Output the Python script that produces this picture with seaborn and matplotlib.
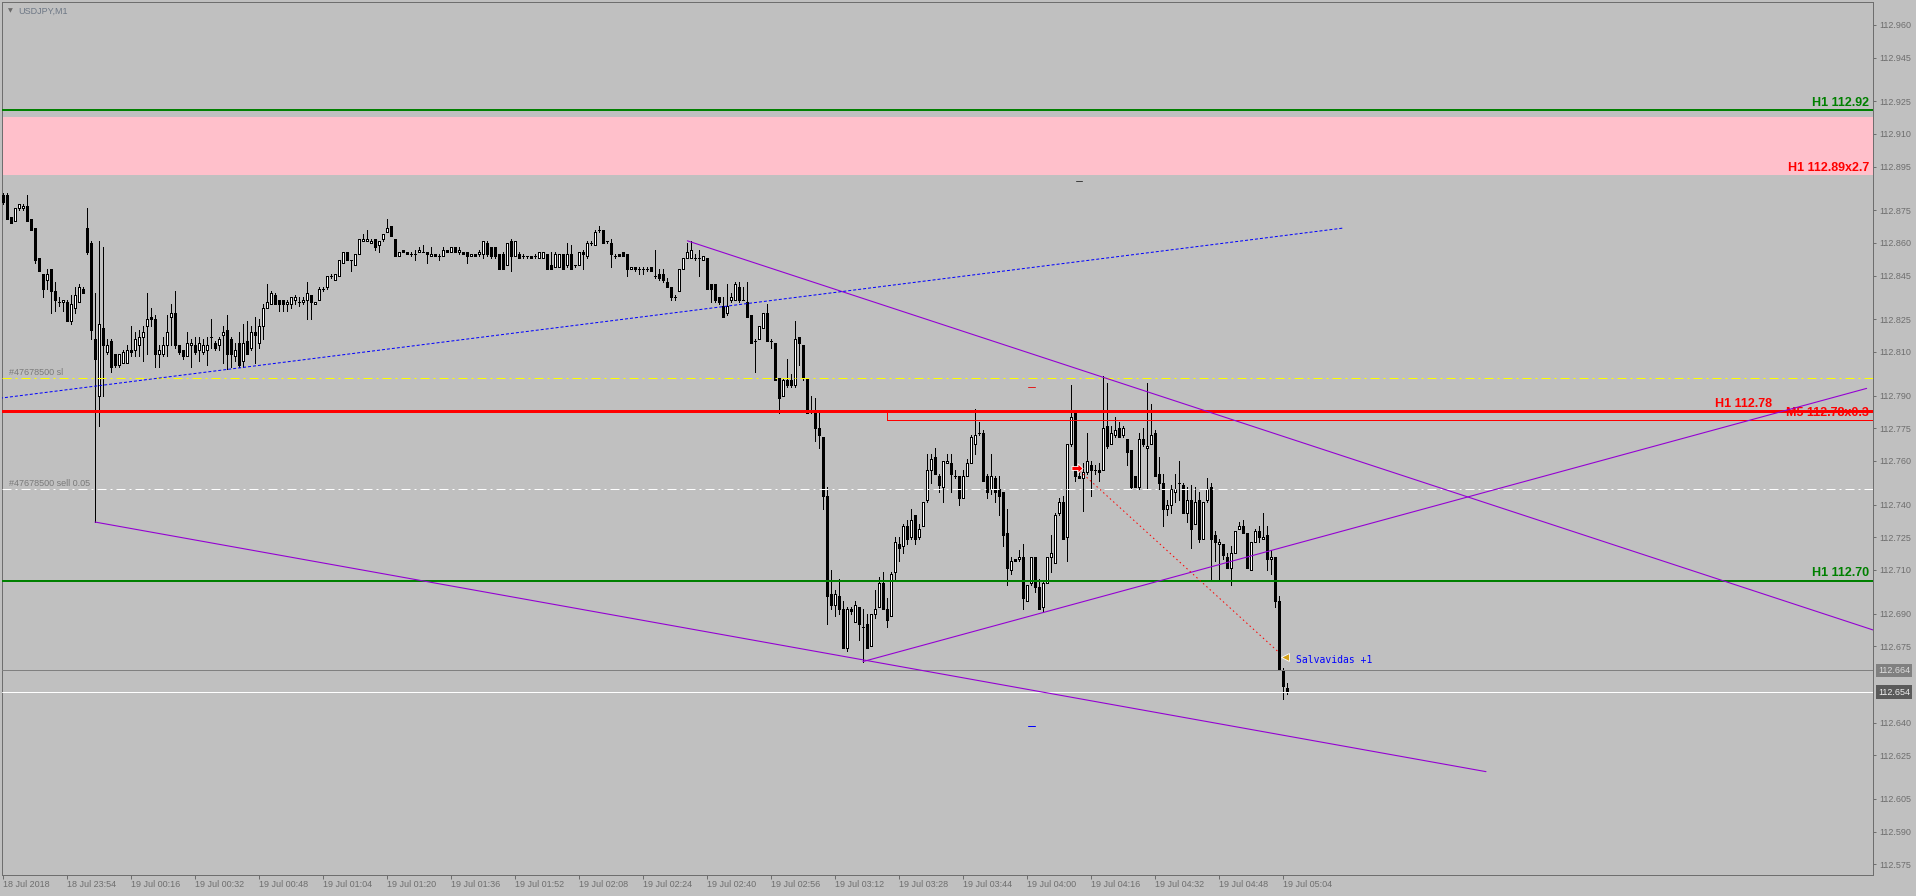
import numpy as np
import pandas as pd
import matplotlib
matplotlib.use("Agg")
import matplotlib.pyplot as plt
import seaborn as sns
from matplotlib.patches import Rectangle
from matplotlib.path import Path

# ---------------- data ----------------
opens = [112.882,112.882,112.872,112.870,112.876,112.876,112.877,112.871,112.867,112.853,
         112.846,112.843,112.848,112.838,112.833,112.833,112.833,112.824,112.830,112.833,
         112.839,112.867,112.860,112.816,112.790,112.821,112.810,112.815,112.809,112.804,
         112.805,112.805,112.811,112.811,112.813,112.817,112.822,112.826,112.825,112.809,
         112.809,112.813,112.826,112.828,112.813,112.811,112.808,112.813,112.813,112.811,
         112.810,112.811,112.817,112.814,112.813,112.818,112.820,112.816,112.808,112.814,
         112.806,112.815,112.812,112.819,112.814,112.822,112.830,112.832,112.836,112.834,
         112.834,112.832,112.832,112.834,112.833,112.833,112.834,112.836,112.832,112.834,
         112.839,112.840,112.845,112.843,112.845,112.851,112.856,112.852,112.850,112.855,
         112.861,112.861,112.860,112.862,112.859,112.862,112.865,112.868,112.862,112.854,
         112.857,112.856,112.855,112.855,112.856,112.856,112.856,112.854,112.855,112.854,
         112.854,112.857,112.856,112.858,112.856,112.856,112.856,112.854,112.855,112.855,
         112.855,112.860,112.858,112.858,112.855,112.855,112.850,112.861,112.854,112.855,
         112.854,112.854,112.854,112.854,112.853,112.853,112.855,112.850,112.849,112.849,
         112.855,112.850,112.855,112.850,112.850,112.856,112.854,112.860,112.859,112.866,
         112.866,112.861,112.860,112.854,112.855,112.856,112.855,112.848,112.849,112.848,
         112.848,112.848,112.849,112.845,112.846,112.846,112.842,112.840,112.835,112.838,
         112.848,112.853,112.853,112.853,112.853,112.852,112.853,112.841,112.841,112.835,
         112.831,112.828,112.834,112.834,112.840,112.834,112.833,112.827,112.815,112.816,
         112.821,112.828,112.815,112.814,112.798,112.790,112.797,112.797,112.795,112.817,
         112.813,112.798,112.783,112.782,112.775,112.771,112.744,112.699,112.694,112.698,
         112.692,112.674,112.692,112.686,112.693,112.684,112.685,112.675,112.690,112.693,
         112.704,112.692,112.689,112.709,112.722,112.721,112.730,112.725,112.735,112.725,
         112.730,112.742,112.756,112.762,112.753,112.748,112.759,112.759,112.753,112.753,
         112.743,112.753,112.759,112.768,112.773,112.773,112.753,112.747,112.752,112.747,
         112.746,112.727,112.710,112.715,112.715,112.716,112.696,112.704,112.716,112.702,
         112.693,112.704,112.716,112.713,112.736,112.741,112.725,112.768,112.782,112.753,
         112.752,112.755,112.758,112.756,112.756,112.756,112.776,112.768,112.772,112.775,
         112.772,112.770,112.765,112.753,112.748,112.770,112.766,112.768,112.773,112.754,
         112.750,112.738,112.740,112.746,112.750,112.749,112.736,112.742,112.731,112.742,
         112.724,112.742,112.748,112.726,112.722,112.722,112.716,112.711,112.718,112.729,
         112.730,112.727,112.710,112.723,112.728,112.724,112.726,112.715,112.716,112.696,
         112.664,112.656]
highs = [112.883,112.883,112.872,112.876,112.878,112.878,112.882,112.871,112.867,112.853,
         112.846,112.848,112.848,112.842,112.835,112.834,112.834,112.836,112.840,112.841,
         112.840,112.876,112.861,112.837,112.861,112.858,112.816,112.816,112.809,112.809,
         112.811,112.813,112.822,112.819,112.820,112.822,112.837,112.830,112.827,112.813,
         112.817,112.827,112.832,112.838,112.813,112.811,112.819,112.816,112.817,112.817,
         112.816,112.817,112.825,112.815,112.817,112.822,112.827,112.817,112.814,112.819,
         112.823,112.824,112.822,112.826,112.825,112.832,112.841,112.838,112.837,112.834,
         112.834,112.834,112.835,112.836,112.835,112.835,112.842,112.836,112.833,112.840,
         112.840,112.845,112.846,112.846,112.852,112.856,112.856,112.852,112.855,112.862,
         112.864,112.866,112.862,112.862,112.861,112.864,112.871,112.868,112.862,112.856,
         112.857,112.856,112.856,112.857,112.858,112.859,112.856,112.858,112.855,112.855,
         112.858,112.857,112.858,112.858,112.858,112.856,112.856,112.855,112.855,112.857,
         112.861,112.861,112.858,112.858,112.855,112.856,112.860,112.862,112.861,112.856,
         112.855,112.854,112.854,112.855,112.856,112.856,112.855,112.856,112.856,112.855,
         112.855,112.860,112.859,112.850,112.856,112.857,112.861,112.861,112.866,112.868,
         112.866,112.861,112.862,112.855,112.855,112.856,112.855,112.849,112.849,112.849,
         112.849,112.849,112.849,112.857,112.848,112.848,112.844,112.840,112.836,112.848,
         112.853,112.860,112.861,112.855,112.857,112.854,112.853,112.841,112.841,112.835,
         112.835,112.841,112.837,112.842,112.842,112.840,112.842,112.827,112.816,112.822,
         112.828,112.832,112.816,112.814,112.798,112.798,112.807,112.800,112.824,112.817,
         112.813,112.798,112.790,112.789,112.782,112.771,112.748,112.710,112.701,112.706,
         112.696,112.693,112.693,112.696,112.693,112.692,112.690,112.690,112.701,112.707,
         112.709,112.697,112.709,112.725,112.725,112.731,112.733,112.738,112.735,112.731,
         112.741,112.763,112.763,112.766,112.754,112.760,112.763,112.763,112.756,112.753,
         112.756,112.761,112.772,112.784,112.778,112.774,112.754,112.763,112.753,112.753,
         112.746,112.738,112.716,112.715,112.719,112.722,112.703,112.716,112.716,112.706,
         112.705,112.716,112.726,112.736,112.743,112.744,112.768,112.795,112.783,112.757,
         112.759,112.773,112.760,112.758,112.759,112.799,112.796,112.776,112.780,112.778,
         112.776,112.770,112.765,112.753,112.773,112.775,112.796,112.786,112.774,112.762,
         112.754,112.742,112.749,112.754,112.760,112.750,112.748,112.749,112.748,112.746,
         112.741,112.752,112.750,112.728,112.724,112.722,112.718,112.721,112.728,112.732,
         112.733,112.727,112.723,112.729,112.730,112.736,112.730,112.719,112.716,112.698,
         112.665,112.658]
lows = [112.878,112.871,112.869,112.870,112.875,112.875,112.870,112.866,112.851,112.847,
        112.835,112.839,112.828,112.829,112.831,112.829,112.824,112.823,112.828,112.833,
        112.837,112.855,112.816,112.732,112.776,112.790,112.809,112.801,112.803,112.803,
        112.805,112.805,112.808,112.808,112.808,112.806,112.809,112.822,112.803,112.803,
        112.808,112.808,112.813,112.812,112.809,112.807,112.808,112.803,112.809,112.806,
        112.809,112.804,112.812,112.811,112.811,112.805,112.802,112.803,112.806,112.803,
        112.803,112.809,112.811,112.805,112.812,112.816,112.830,112.832,112.832,112.829,
        112.829,112.829,112.830,112.832,112.831,112.832,112.825,112.825,112.832,112.834,
        112.838,112.839,112.844,112.843,112.845,112.851,112.852,112.847,112.850,112.855,
        112.861,112.861,112.860,112.857,112.856,112.861,112.865,112.863,112.854,112.854,
        112.856,112.855,112.854,112.852,112.856,112.856,112.851,112.854,112.854,112.852,
        112.854,112.856,112.856,112.856,112.855,112.855,112.851,112.854,112.854,112.854,
        112.853,112.854,112.853,112.853,112.848,112.848,112.850,112.847,112.854,112.853,
        112.853,112.853,112.853,112.853,112.853,112.853,112.848,112.848,112.849,112.849,
        112.848,112.849,112.848,112.849,112.850,112.848,112.853,112.859,112.859,112.865,
        112.860,112.860,112.849,112.853,112.854,112.854,112.845,112.848,112.847,112.846,
        112.846,112.847,112.847,112.844,112.843,112.842,112.840,112.834,112.834,112.838,
        112.848,112.853,112.853,112.852,112.845,112.852,112.839,112.833,112.833,112.832,
        112.826,112.827,112.833,112.834,112.833,112.834,112.826,112.814,112.801,112.816,
        112.821,112.815,112.812,112.797,112.782,112.790,112.794,112.794,112.794,112.804,
        112.797,112.782,112.782,112.769,112.766,112.738,112.685,112.692,112.689,112.690,
        112.674,112.673,112.690,112.686,112.678,112.668,112.674,112.675,112.688,112.693,
        112.692,112.684,112.689,112.706,112.714,112.718,112.722,112.724,112.722,112.724,
        112.730,112.741,112.750,112.754,112.746,112.741,112.759,112.746,112.752,112.740,
        112.743,112.753,112.759,112.763,112.772,112.751,112.743,112.745,112.741,112.735,
        112.721,112.703,112.708,112.714,112.714,112.692,112.696,112.703,112.700,112.692,
        112.691,112.704,112.709,112.713,112.735,112.724,112.714,112.767,112.751,112.752,
        112.737,112.754,112.744,112.754,112.751,112.756,112.766,112.768,112.771,112.771,
        112.771,112.758,112.747,112.748,112.747,112.767,112.747,112.768,112.753,112.747,
        112.730,112.735,112.736,112.741,112.742,112.736,112.732,112.720,112.731,112.723,
        112.724,112.741,112.705,112.714,112.705,112.715,112.711,112.703,112.718,112.729,
        112.727,112.711,112.710,112.723,112.723,112.724,112.710,112.708,112.693,112.664,
        112.651,112.653]
closes = [112.879,112.871,112.869,112.876,112.878,112.877,112.870,112.866,112.852,112.847,
          112.839,112.846,112.838,112.834,112.833,112.834,112.824,112.832,112.836,112.840,
          112.837,112.856,112.820,112.807,112.823,112.813,112.813,112.803,112.804,112.809,
          112.810,112.811,112.810,112.816,112.817,112.819,112.825,112.825,112.809,112.811,
          112.813,112.819,112.828,112.813,112.810,112.808,112.814,112.814,112.810,112.814,
          112.813,112.813,112.817,112.812,112.816,112.819,112.809,112.809,112.811,112.804,
          112.814,112.809,112.819,112.818,112.822,112.830,112.833,112.837,112.832,112.832,
          112.832,112.833,112.835,112.835,112.833,112.834,112.837,112.833,112.833,112.839,
          112.839,112.845,112.845,112.846,112.852,112.856,112.852,112.852,112.855,112.862,
          112.862,112.862,112.861,112.858,112.861,112.864,112.867,112.863,112.854,112.856,
          112.856,112.855,112.855,112.855,112.857,112.856,112.855,112.855,112.854,112.854,
          112.857,112.856,112.858,112.856,112.857,112.855,112.854,112.855,112.854,112.856,
          112.861,112.855,112.854,112.854,112.848,112.848,112.860,112.854,112.861,112.853,
          112.854,112.854,112.853,112.854,112.856,112.856,112.848,112.848,112.855,112.855,
          112.848,112.855,112.848,112.850,112.856,112.855,112.860,112.860,112.865,112.866,
          112.860,112.861,112.855,112.854,112.854,112.854,112.848,112.849,112.848,112.848,
          112.848,112.848,112.847,112.845,112.844,112.843,112.840,112.835,112.835,112.848,
          112.853,112.856,112.857,112.853,112.853,112.854,112.839,112.839,112.834,112.833,
          112.826,112.831,112.835,112.841,112.834,112.834,112.826,112.814,112.815,112.822,
          112.828,112.815,112.815,112.797,112.789,112.797,112.795,112.795,112.816,112.814,
          112.798,112.782,112.783,112.775,112.772,112.744,112.698,112.694,112.699,112.692,
          112.674,112.692,112.691,112.694,112.685,112.684,112.674,112.690,112.692,112.704,
          112.692,112.687,112.708,112.723,112.720,112.730,112.724,112.733,112.724,112.729,
          112.741,112.756,112.761,112.754,112.749,112.760,112.760,112.754,112.753,112.743,
          112.753,112.759,112.771,112.772,112.773,112.751,112.746,112.753,112.746,112.744,
          112.726,112.711,112.714,112.714,112.716,112.697,112.703,112.716,112.702,112.692,
          112.704,112.716,112.718,112.735,112.741,112.724,112.768,112.780,112.753,112.752,
          112.755,112.760,112.756,112.756,112.755,112.775,112.767,112.773,112.774,112.771,
          112.775,112.764,112.748,112.748,112.770,112.768,112.767,112.772,112.753,112.750,
          112.738,112.740,112.747,112.747,112.750,112.736,112.742,112.729,112.741,112.724,
          112.741,112.747,112.724,112.723,112.723,112.717,112.711,112.718,112.728,112.730,
          112.727,112.711,112.723,112.728,112.725,112.725,112.715,112.716,112.696,112.664,
          112.657,112.654]

time_labels = ["18 Jul 2018", "18 Jul 23:54", "19 Jul 00:16", "19 Jul 00:32", "19 Jul 00:48",
               "19 Jul 01:04", "19 Jul 01:20", "19 Jul 01:36", "19 Jul 01:52", "19 Jul 02:08",
               "19 Jul 02:24", "19 Jul 02:40", "19 Jul 02:56", "19 Jul 03:12", "19 Jul 03:28",
               "19 Jul 03:44", "19 Jul 04:00", "19 Jul 04:16", "19 Jul 04:32", "19 Jul 04:48",
               "19 Jul 05:04"]
price_ticks = [112.960, 112.945, 112.925, 112.910, 112.895, 112.875, 112.860, 112.845,
               112.825, 112.810, 112.790, 112.775, 112.760, 112.740, 112.725, 112.710,
               112.690, 112.675, 112.640, 112.625, 112.605, 112.590, 112.575]

# horizontal levels
h1_high = 112.921
zone_low, zone_high = 112.891, 112.918
sl_level = 112.798
h1_mid = 112.783
m5_low = 112.7786
entry_level = 112.747
h1_low = 112.705
ask_price = 112.664
bid_price = 112.654

# trend lines (bar index, price)
blue_line_x, blue_line_y = [-0.75, 335.25], [112.7888, 112.8669]
lower_line_x, lower_line_y = [23, 370.75], [112.732, 112.6175]
upper_line_x, upper_line_y = [171.1, 467.5], [112.861, 112.6825]
rise_line_x, rise_line_y = [215, 465.9], [112.668, 112.7933]
trade_line_x, trade_line_y = [268.4, 319.1], [112.7567, 112.672]

# ---------------- figure ----------------
W, H, DPI = 1916, 896, 100
PX = 72.0 / DPI
sns.set_theme(style="white")
plt.rcParams['font.family'] = ['Liberation Sans', 'DejaVu Sans']
plt.rcParams['lines.scale_dashes'] = False
BG = '#C0C0C0'

fig = plt.figure(figsize=(W / DPI, H / DPI), dpi=DPI, facecolor=BG)
ax = fig.add_axes([2 / W, 21 / H, 1871 / W, 873 / H])
ax.set_facecolor(BG)
ax.set_xlim(-0.25, 467.5)
ax.set_ylim(112.57009, 112.97055)

df = pd.DataFrame(dict(o=opens, h=highs, l=lows, c=closes))
df['x'] = np.arange(len(df))
up = df.c >= df.o

# pink zone
ax.axhspan(zone_low, zone_high, color='#FFC0CB', lw=0, zorder=0.5)

# candles
ax.vlines(df.x, df.l, df.h, color='black', lw=1 * PX, antialiased=False, zorder=2)
ax.bar(df.x[up], (df.c - df.o)[up], bottom=df.o[up], width=0.5, color='white',
       edgecolor='black', lw=1 * PX, antialiased=False, zorder=3)
ax.bar(df.x[~up], (df.c - df.o)[~up], bottom=df.o[~up], width=0.5, color='black',
       edgecolor='black', lw=1 * PX, antialiased=False, zorder=3)

# horizontal lines
ax.axhline(h1_high, color='#008000', lw=2 * PX, zorder=4)
ax.axhline(h1_mid, color='#FF0000', lw=3 * PX, zorder=4)
ax.axhline(h1_low, color='#008000', lw=2 * PX, zorder=4)
ax.axhline(sl_level, color='#FFFF00', lw=1 * PX, ls=(0, (9 * PX, 4 * PX, 2 * PX, 4 * PX)), zorder=4)
ax.axhline(entry_level, color='white', lw=1 * PX, ls=(0, (9 * PX, 4 * PX, 2 * PX, 4 * PX)), zorder=4)
ax.axhline(ask_price, color='#808080', lw=1 * PX, zorder=4)
ax.axhline(bid_price, color='white', lw=1 * PX, zorder=4)
ax.add_patch(Rectangle((221, m5_low), 260, h1_mid - m5_low, fill=False, ec='#FF0000',
                       lw=1 * PX, zorder=4))

# trend lines
sns.lineplot(x=lower_line_x, y=lower_line_y, color='#9400D3', lw=1.1 * PX, ax=ax, zorder=5)
sns.lineplot(x=upper_line_x, y=upper_line_y, color='#9400D3', lw=1.1 * PX, ax=ax, zorder=5)
sns.lineplot(x=rise_line_x, y=rise_line_y, color='#9400D3', lw=1.1 * PX, ax=ax, zorder=5)
ax.plot(blue_line_x, blue_line_y, color='#0000FF', lw=1 * PX, ls=(0, (3 * PX, 2 * PX)), zorder=5)
ax.plot(trade_line_x, trade_line_y, color='#FF0000', lw=1 * PX, ls=(0, (1.5 * PX, 3 * PX)), zorder=5)

# small marks
ax.plot([256.3, 258.0], [112.7938, 112.7938], color='#E02020', lw=1 * PX, zorder=5)
ax.plot([256.3, 258.0], [112.6384, 112.6384], color='#0000FF', lw=1 * PX, zorder=5)
ax.plot([268.3, 269.8], [112.8884, 112.8884], color='#404040', lw=1 * PX, zorder=5)
arrow = Path([(-1, -0.35), (0.1, -0.35), (0.1, -0.85), (1, 0), (0.1, 0.85), (0.1, 0.35),
              (-1, 0.35), (-1, -0.35)], closed=True)
ax.plot([trade_line_x[0]], [trade_line_y[0]], marker=arrow, ms=8, mfc='#FF0000', mec='white',
        mew=0.6, ls='none', zorder=6)
ax.plot([320.4], [112.66995], marker='<', ms=6, mfc='#D4A017', mec='white', mew=0.6,
        ls='none', zorder=6)

# texts
bold = dict(fontsize=9, fontweight='bold', zorder=6)
ax.text(466.5, 112.9244, "H1 112.92", color='#008000', ha='right', va='center', **bold)
ax.text(466.5, 112.8943, "H1 112.89x2.7", color='#FF0000', ha='right', va='center', **bold)
ax.text(442.25, 112.7861, "H1 112.78", color='#FF0000', ha='right', va='center', **bold)
ax.text(466.5, 112.7818, "M5 112.78x0.3", color='#FF0000', ha='right', va='center',
        fontsize=9, fontweight='bold', zorder=3.5)
ax.text(466.5, 112.7085, "H1 112.70", color='#008000', ha='right', va='center', **bold)
ax.text(1.6, 112.8005, "#47678500 sl", color='#7a7a7a', ha='left', va='center', fontsize=6.5)
ax.text(1.6, 112.7498, "#47678500 sell 0.05", color='#7a7a7a', ha='left', va='center', fontsize=6.5)
ax.text(323.3, 112.6687, "Salvavidas +1", color='#0000FF', ha='left', va='center',
        fontsize=7, family='DejaVu Sans Mono', zorder=6)

# axes styling
for s in ax.spines.values():
    s.set_color('#6e6e6e')
    s.set_linewidth(1 * PX)
ax.grid(False)
ax.yaxis.tick_right()
ax.set_yticks(price_ticks)
ax.set_yticklabels([f"{v:.3f}" for v in price_ticks])
ax.tick_params(axis='y', right=True, left=False, length=3 * PX, width=1 * PX, pad=3 * PX,
               colors='#6e6e6e', labelsize=6.5, direction='out')
ax.set_xticks(np.arange(0, 16 * len(time_labels), 16))
ax.set_xticklabels(time_labels)
for t in ax.get_xticklabels():
    t.set_ha('left')
ax.tick_params(axis='x', bottom=True, length=4 * PX, width=1 * PX, pad=0.8,
               colors='#6e6e6e', labelsize=6.5, direction='out')
ax.set_xlabel('')
ax.set_ylabel('')
if ax.get_legend():
    ax.get_legend().remove()

# price boxes on right axis
ytr = ax.get_yaxis_transform()
ax.text((1878 - 2) / 1871, ask_price, f"{ask_price:.3f}", transform=ytr, ha='left', va='center',
        fontsize=6.5, color='#dcdcdc', clip_on=False, zorder=7,
        bbox=dict(boxstyle='square,pad=0.25', fc='#808080', ec='none'))
ax.text((1878 - 2) / 1871, bid_price, f"{bid_price:.3f}", transform=ytr, ha='left', va='center',
        fontsize=6.5, color='#eeeeee', clip_on=False, zorder=7,
        bbox=dict(boxstyle='square,pad=0.25', fc='#5a5a5a', ec='none'))

# title
fig.text(10 / W, 1 - 11 / H, "▼", fontsize=4.5, color='#6a6a6a', ha='center', va='center',
         family='DejaVu Sans')
fig.text(18 / W, 1 - 11 / H, "USDJPY,M1", fontsize=6.5, color='#6d7785', ha='left', va='center')

fig.savefig("out.png", dpi=DPI, facecolor=BG)
